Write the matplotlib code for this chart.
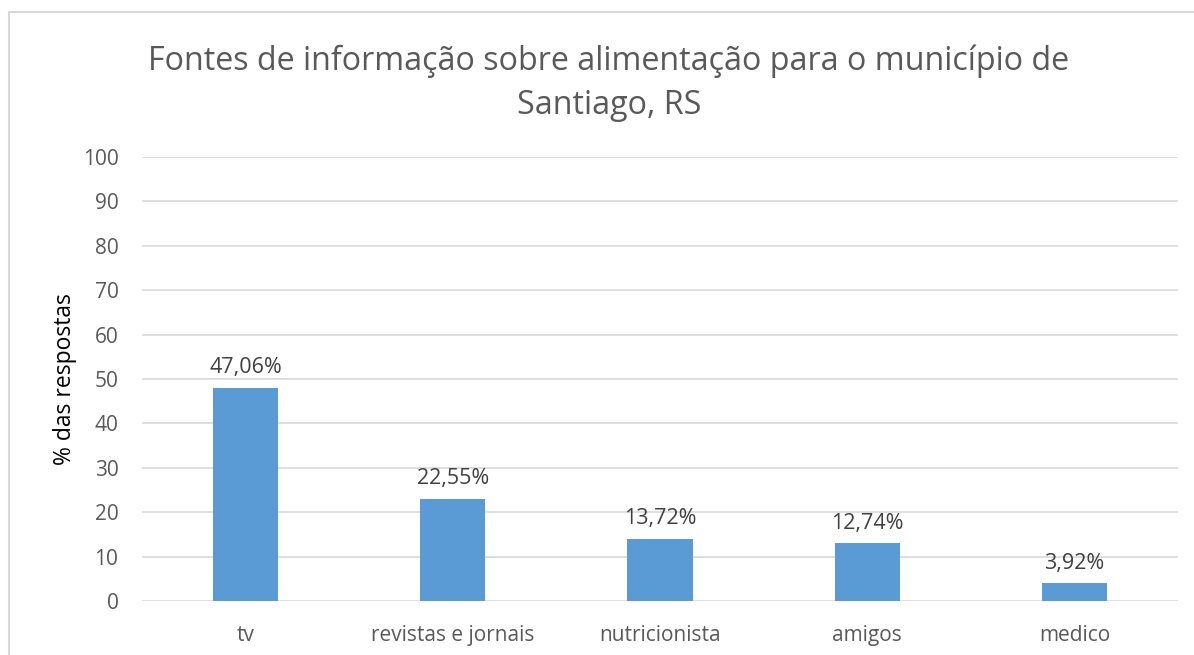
import matplotlib
matplotlib.use("Agg")
import matplotlib.pyplot as plt
from matplotlib.patches import Rectangle

categories = ["tv", "revistas e jornais", "nutricionista", "amigos", "medico"]
values = [48, 23, 14, 13, 4]
labels = ["47,06%", "22,55%", "13,72%", "12,74%", "3,92%"]
title = "Fontes de informação sobre alimentação para o município de\nSantiago, RS"
ylabel = "% das respostas"

plt.rcParams['font.family'] = ['Open Sans', 'DejaVu Sans']

fig = plt.figure(figsize=(11.94, 6.55), dpi=100)
ax = fig.add_axes([142/1194, 1-601/655, (1178-142)/1194, (601-157)/655])

x = list(range(len(categories)))
bars = ax.bar(x, values, width=0.315, color="#5B9BD5", zorder=3)
for b, lab in zip(bars, labels):
    ax.annotate(lab, (b.get_x() + b.get_width()/2, b.get_height()),
                xytext=(0, 7), textcoords="offset points",
                ha="center", va="bottom", fontsize=15.5, color="#404040")

ax.set_xlim(-0.5, len(categories) - 0.5)
ax.set_ylim(0, 100)
ax.set_yticks(range(0, 101, 10))
ax.set_xticks(x)
ax.set_xticklabels(categories)
ax.tick_params(axis="both", length=0, labelsize=15, colors="#595959")
ax.tick_params(axis="y", pad=17)
ax.tick_params(axis="x", pad=17)
ax.grid(axis="y", color="#D9D9D9", linewidth=1.2, zorder=0)
for s in ax.spines.values():
    s.set_visible(False)
ax.set_ylabel(ylabel, fontsize=16.5, color="black", labelpad=4)

fig.text(609/1194, 1-83/655, title, ha="center", va="center", fontsize=23.2,
         color="#595959", linespacing=1.42)

fig.patches.append(Rectangle((9/1194, -0.1), 1.2, 1 - 12/655 + 0.1,
                             transform=fig.transFigure, fill=False,
                             edgecolor="#D9D9D9", linewidth=1.5))

fig.savefig("out.png", dpi=100)
